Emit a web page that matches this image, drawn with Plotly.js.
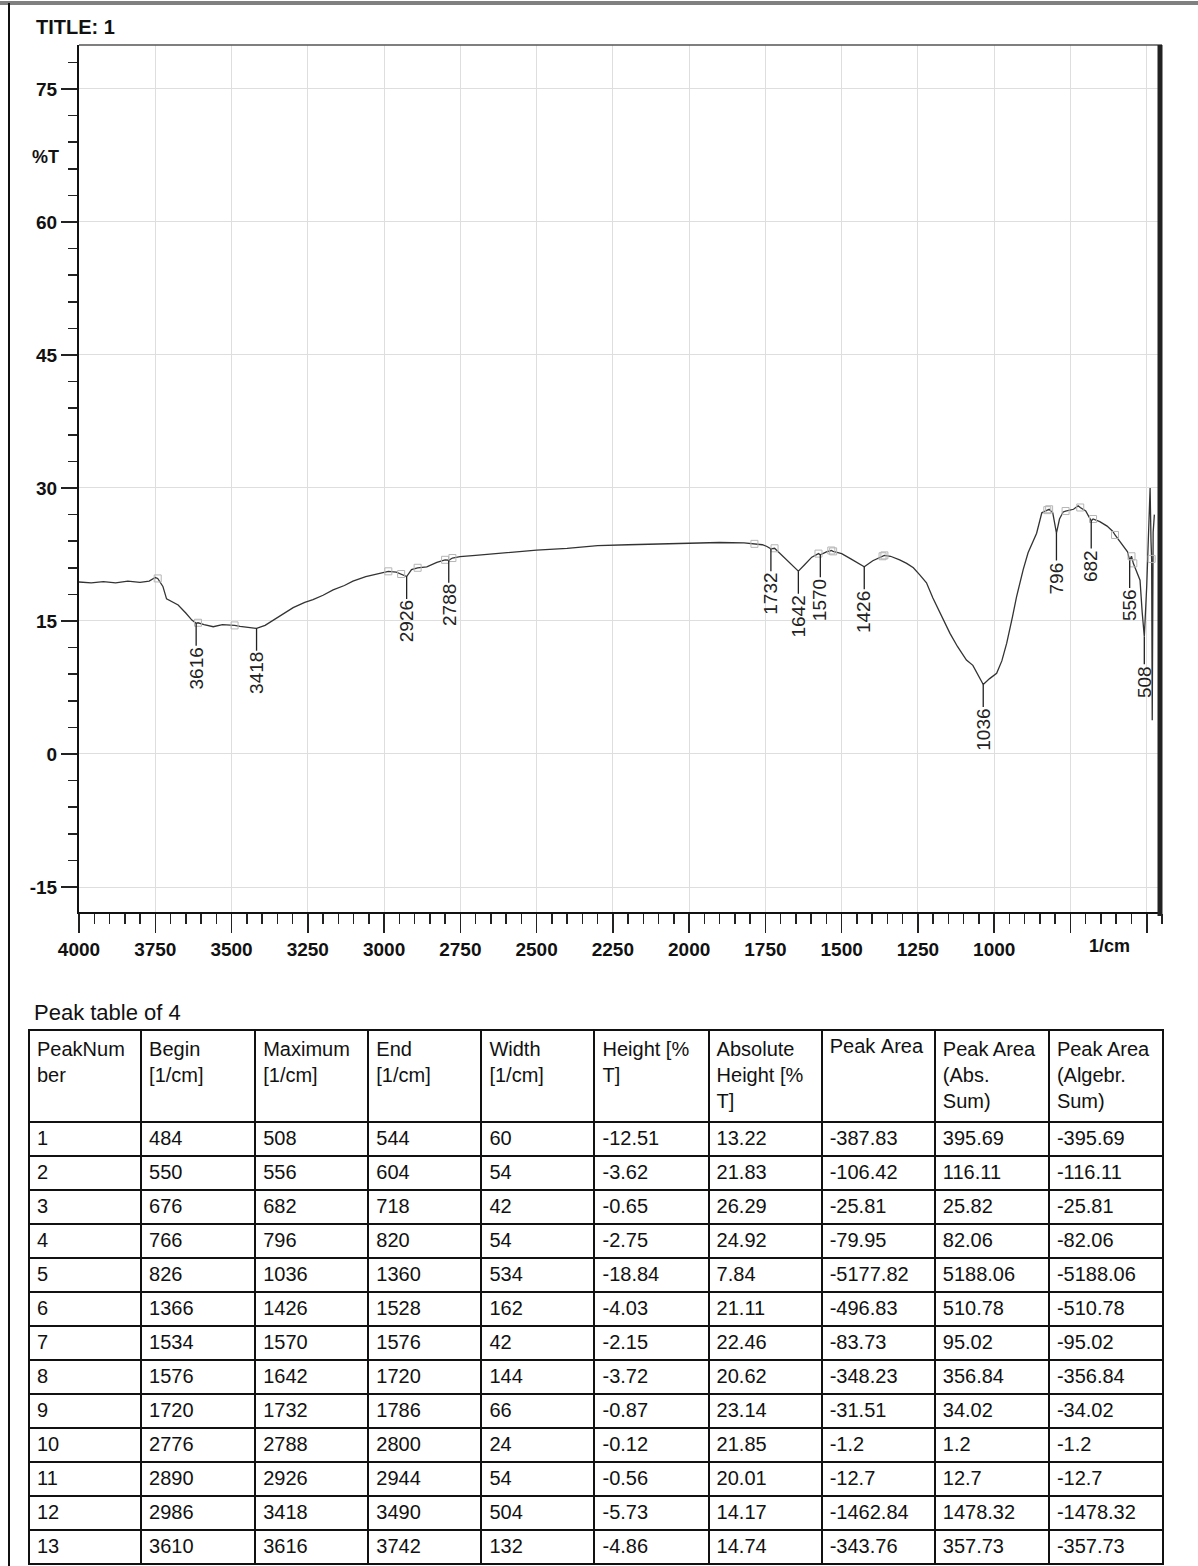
<!DOCTYPE html>
<html>
<head>
<meta charset="utf-8">
<script src="https://cdn.plot.ly/plotly-3.0.1.min.js"></script>
<style>
  html, body { margin: 0; padding: 0; background: #fff; }
  #chart { width: 1198px; height: 1566px; }
</style>
</head>
<body>
<div id="chart"></div>
<script>
// ---------------- data ----------------
const wavenumber = [4000,3960,3920,3880,3840,3800,3770,3750,3742,3725,3713,3690,3675,3650,3630,3616,3610,3590,3560,3530,3500,3490,3472,3445,3418,3390,3350,3298,3260,3233,3200,3167,3130,3102,3060,3013,2986,2960,2944,2926,2910,2890,2860,2827,2800,2788,2776,2751,2700,2600,2500,2400,2300,2200,2100,2000,1900,1820,1786,1760,1745,1732,1720,1693,1660,1642,1620,1598,1576,1570,1550,1534,1528,1500,1470,1445,1426,1398,1366,1360,1340,1310,1287,1265,1244,1222,1201,1170,1145,1120,1091,1070,1050,1036,1015,992,975,959,940,927,905,889,861,844,826,820,808,796,786,774,766,740,725,718,700,682,676,654,630,611,604,585,563,556,550,544,530,522,515,508,500,494,489,486,484,482,479,475];
const transmittance = [19.4,19.3,19.45,19.3,19.5,19.35,19.5,19.9,19.8,18.9,17.5,17.1,16.8,15.9,15.1,14.74,14.8,14.6,14.35,14.6,14.55,14.5,14.4,14.3,14.17,14.5,15.4,16.5,17.1,17.4,17.9,18.5,19.0,19.5,20.0,20.4,20.6,20.5,20.3,20.01,20.8,21.0,21.1,21.6,21.9,21.85,22.1,22.25,22.4,22.7,23.0,23.2,23.5,23.6,23.7,23.8,23.85,23.8,23.7,23.6,23.4,23.14,23.2,22.3,21.2,20.62,21.4,22.2,22.6,22.46,22.8,22.95,22.85,22.6,22.0,21.5,21.11,21.8,22.3,22.4,22.3,21.9,21.5,21.0,20.2,19.3,17.6,15.3,13.6,12.1,10.6,10.0,8.8,7.84,8.5,9.1,10.5,12.5,15.5,17.7,20.8,22.7,24.9,27.2,27.5,27.6,27.2,24.92,26.5,27.3,27.4,27.6,28.0,27.8,27.4,26.29,26.5,26.2,25.7,25.1,24.7,23.8,22.8,21.83,22.3,21.5,20.3,19.6,16.0,13.22,19.0,26.0,30.0,24.0,22.0,3.8,25.0,27.0];

// peak table
const peakNumber   = ["1","2","3","4","5","6","7","8","9","10","11","12","13"];
const beginCol     = ["484","550","676","766","826","1366","1534","1576","1720","2776","2890","2986","3610"];
const maximumCol   = ["508","556","682","796","1036","1426","1570","1642","1732","2788","2926","3418","3616"];
const endCol       = ["544","604","718","820","1360","1528","1576","1720","1786","2800","2944","3490","3742"];
const widthCol     = ["60","54","42","54","534","162","42","144","66","24","54","504","132"];
const heightCol    = ["-12.51","-3.62","-0.65","-2.75","-18.84","-4.03","-2.15","-3.72","-0.87","-0.12","-0.56","-5.73","-4.86"];
const absHeightCol = ["13.22","21.83","26.29","24.92","7.84","21.11","22.46","20.62","23.14","21.85","20.01","14.17","14.74"];
const areaCol      = ["-387.83","-106.42","-25.81","-79.95","-5177.82","-496.83","-83.73","-348.23","-31.51","-1.2","-12.7","-1462.84","-343.76"];
const areaAbsCol   = ["395.69","116.11","25.82","82.06","5188.06","510.78","95.02","356.84","34.02","1.2","12.7","1478.32","357.73"];
const areaAlgCol   = ["-395.69","-116.11","-25.81","-82.06","-5188.06","-510.78","-95.02","-356.84","-34.02","-1.2","-12.7","-1478.32","-357.73"];
const tableHeaders = ["PeakNum<br>ber","Begin<br>[1/cm]","Maximum<br>[1/cm]","End<br>[1/cm]","Width<br>[1/cm]","Height [%<br>T]","Absolute<br>Height [%<br>T]","Peak\u00a0Area","Peak Area<br>(Abs.<br>Sum)","Peak Area<br>(Algebr.<br>Sum)"];

// axis ticks
const xTickVals  = [4000,3750,3500,3250,3000,2750,2500,2250,2000,1750,1500,1250,1000,750,500];
const xTickText  = ["4000","3750","3500","3250","3000","2750","2500","2250","2000","1750","1500","1250","1000","",""];
const yTickVals  = [-15,0,15,30,45,60,75];
const yTickText  = ["-15","0","15","30","45","60","75"];

// ---------------- figure ----------------
const W = 1198, H = 1566;
const NARROW = "Liberation Sans Narrow, Arial Narrow, Liberation Sans, Arial, sans-serif";
const REG = "Liberation Sans, Arial, sans-serif";
const px = v => v / W;
const py = v => 1 - v / H;

// begin/end points on the spectrum (open squares)
const edgeSet = new Set(beginCol.concat(endCol).map(Number));
const sqX = [], sqY = [];
wavenumber.forEach((w, i) => { if (edgeSet.has(w)) { sqX.push(w); sqY.push(transmittance[i]); } });

const spectrum = {
  type: 'scatter', mode: 'lines', x: wavenumber, y: transmittance,
  line: { color: '#333', width: 1.3 }, hoverinfo: 'skip', showlegend: false,
  xaxis: 'x', yaxis: 'y'
};
const squares = {
  type: 'scatter', mode: 'markers', x: sqX, y: sqY,
  marker: { symbol: 'square-open', size: 7, color: '#b5b5b5', line: { width: 1 } },
  hoverinfo: 'skip', showlegend: false, xaxis: 'x', yaxis: 'y'
};

const table = {
  type: 'table',
  domain: { x: [px(29), px(1163)], y: [0, py(1030)] },
  columnwidth: [112, 114, 113, 113, 113, 114, 113, 113, 114, 114],
  header: {
    values: tableHeaders,
    align: 'left',
    height: 92,
    line: { color: '#111', width: 2 },
    fill: { color: '#fff' },
    font: { family: NARROW, size: 20, color: '#111' }
  },
  cells: {
    values: [peakNumber, beginCol, maximumCol, endCol, widthCol, heightCol, absHeightCol, areaCol, areaAbsCol, areaAlgCol],
    align: 'left',
    height: 34,
    line: { color: '#111', width: 2 },
    fill: { color: '#fff' },
    font: { family: NARROW, size: 20, color: '#111' }
  }
};

const annotations = [
  { text: 'TITLE: 1', xref: 'paper', yref: 'paper', x: px(34), y: py(27), xanchor: 'left', yanchor: 'middle',
    showarrow: false, font: { family: NARROW, size: 20, color: '#111', weight: 'bold' } },
  { text: '%T', xref: 'paper', yref: 'paper', x: px(45), y: py(157), xanchor: 'center', yanchor: 'middle',
    showarrow: false, font: { family: NARROW, size: 18, color: '#111', weight: 'bold' } },
  { text: '1/cm', xref: 'paper', yref: 'paper', x: px(1109), y: py(946), xanchor: 'center', yanchor: 'middle',
    showarrow: false, font: { family: NARROW, size: 18, color: '#111', weight: 'bold' } },
  { text: 'Peak table of 4', xref: 'paper', yref: 'paper', x: px(32), y: py(1012), xanchor: 'left', yanchor: 'middle',
    showarrow: false, font: { family: NARROW, size: 22, color: '#111' } }
];
maximumCol.forEach((m, i) => {
  annotations.push({
    text: m, x: Number(m), y: Number(absHeightCol[i]), xref: 'x', yref: 'y',
    showarrow: true, arrowhead: 0, arrowwidth: 1.3, arrowcolor: '#222',
    ax: 0, ay: 45, standoff: 0, textangle: -90,
    font: { family: REG, size: 19, color: '#222' }
  });
});

const shapes = [
  // page frame
  { type: 'line', xref: 'paper', yref: 'paper', x0: 0, x1: 1, y0: py(3), y1: py(3), line: { color: '#808080', width: 4 } },
  { type: 'line', xref: 'paper', yref: 'paper', x0: px(9), x1: px(9), y0: 0, y1: py(3), line: { color: '#111', width: 2 } },
  // plot frame top and right
  { type: 'line', xref: 'paper', yref: 'paper', x0: px(79), x1: px(1162), y0: py(45), y1: py(45), line: { color: '#555', width: 1.5 } },
  { type: 'line', xref: 'paper', yref: 'paper', x0: px(1160), x1: px(1160), y0: py(45), y1: py(916), line: { color: '#222', width: 5 } }
];

const layout = {
  width: W, height: H,
  margin: { l: 0, r: 0, t: 0, b: 0 },
  paper_bgcolor: '#fff', plot_bgcolor: '#fff',
  showlegend: false,
  xaxis: {
    domain: [px(79), px(1162)],
    range: [4000, 450],
    tickmode: 'array', tickvals: xTickVals, ticktext: xTickText,
    ticks: 'outside', ticklen: 19, tickwidth: 1.5, tickcolor: '#222',
    minor: { tickmode: 'linear', tick0: 0, dtick: 50, ticks: 'outside', ticklen: 10, tickwidth: 1.5, tickcolor: '#222', showgrid: false },
    showline: true, linecolor: '#111', linewidth: 2,
    showgrid: true, gridcolor: '#dedede', gridwidth: 1,
    zeroline: false, fixedrange: true,
    tickfont: { family: NARROW, size: 19, color: '#111', weight: 'bold' },
    anchor: 'y'
  },
  yaxis: {
    domain: [py(912), py(45)],
    range: [-17.82, 79.96],
    tickmode: 'array', tickvals: yTickVals, ticktext: yTickText,
    ticks: 'outside', ticklen: 16, tickwidth: 1.5, tickcolor: '#222',
    minor: { tickmode: 'linear', tick0: 0, dtick: 3, ticks: 'outside', ticklen: 9, tickwidth: 1.5, tickcolor: '#222', showgrid: false },
    showline: true, linecolor: '#111', linewidth: 2,
    showgrid: true, gridcolor: '#dedede', gridwidth: 1,
    zeroline: false, fixedrange: true,
    tickfont: { family: NARROW, size: 19, color: '#111', weight: 'bold' },
    anchor: 'x'
  },
  annotations: annotations,
  shapes: shapes
};

Plotly.newPlot('chart', [spectrum, squares, table], layout, { staticPlot: true, displayModeBar: false });
</script>
</body>
</html>
